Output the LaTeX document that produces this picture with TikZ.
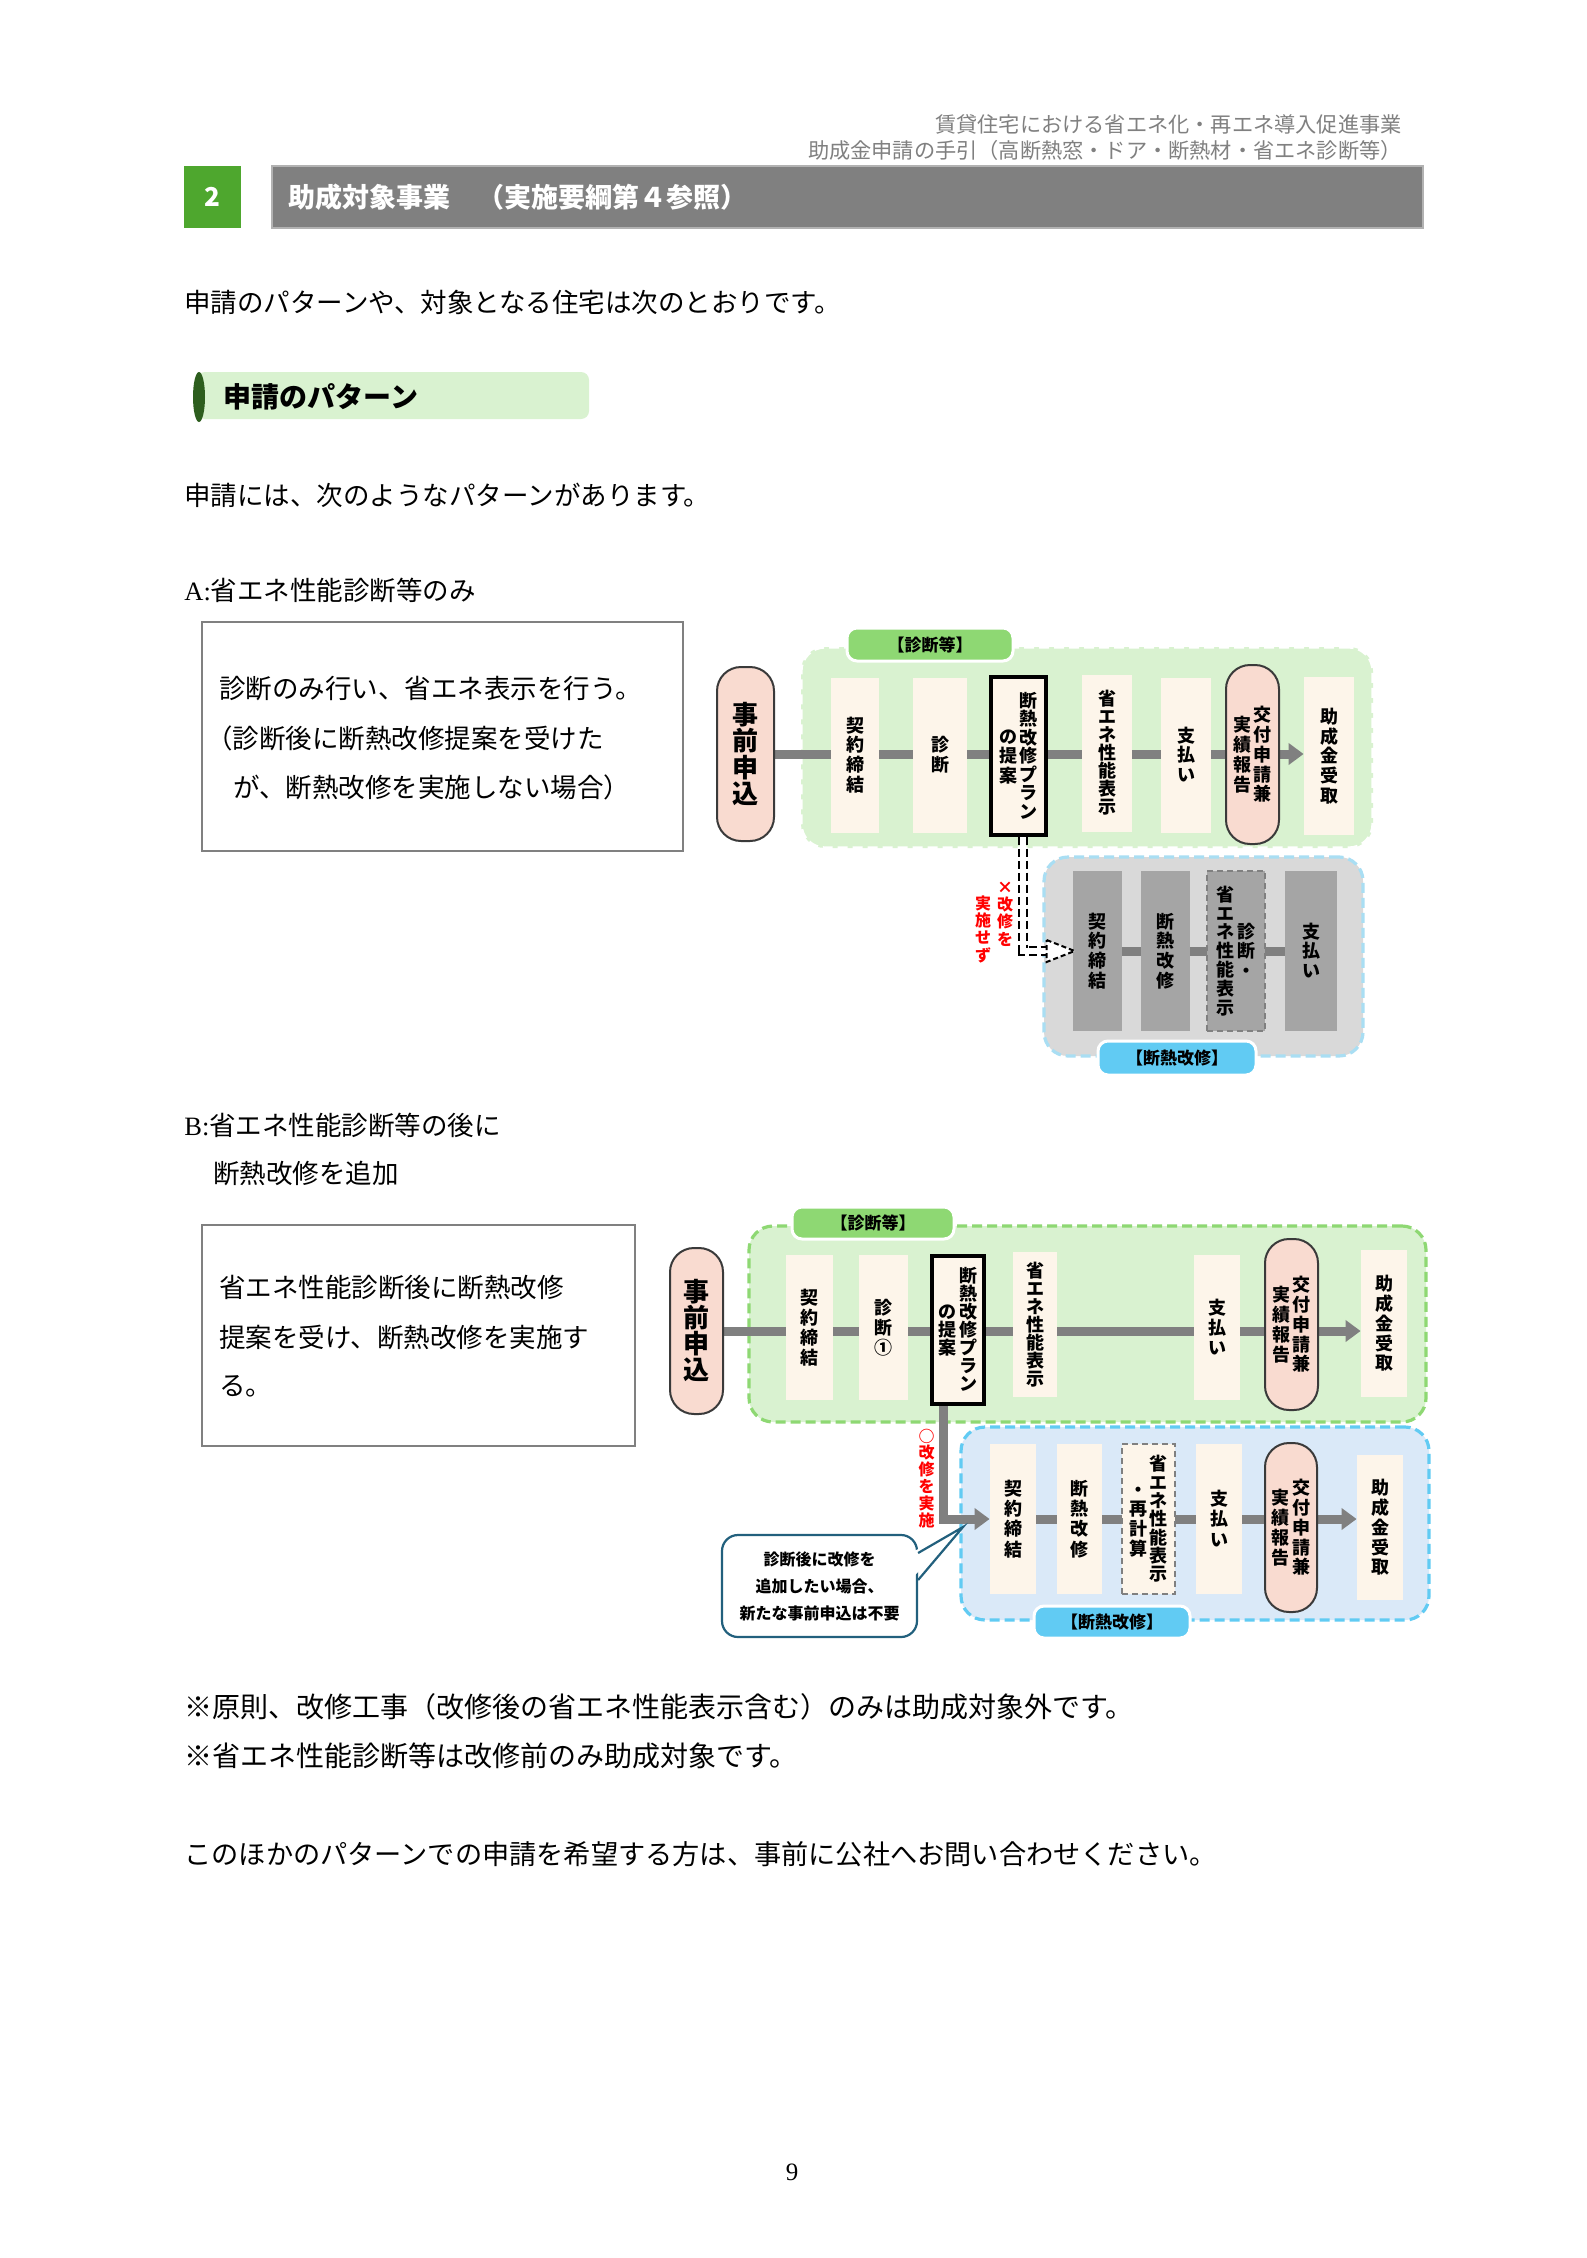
\documentclass[tikz,border=0pt]{standalone}
\usepackage{fontspec}
\setmainfont{Noto Sans CJK JP}
\newfontfamily\lserif{Liberation Serif}
\usetikzlibrary{arrows.meta}
\definecolor{cream}{HTML}{FDF5EA}
\definecolor{peach}{HTML}{F9DBD0}
\definecolor{capline}{HTML}{3A3A3A}
\definecolor{lgreen}{HTML}{D9F2D0}
\definecolor{tgreen}{HTML}{8ED873}
\definecolor{dgreen}{HTML}{2D5E1E}
\definecolor{hgreen}{HTML}{4EA72E}
\definecolor{lblue}{HTML}{DAE9F8}
\definecolor{tblue}{HTML}{61CBF3}
\definecolor{pblue}{HTML}{A9DEF3}
\definecolor{rgray}{HTML}{D9D9D9}
\definecolor{sgray}{HTML}{A5A5A5}
\definecolor{cgray}{HTML}{808080}
\definecolor{txgray}{HTML}{808080}
\definecolor{callline}{HTML}{22607D}
\definecolor{boxline}{HTML}{808080}
\pgfdeclarelayer{bg}
\pgfdeclarelayer{mid}
\pgfsetlayers{bg,mid,main}
\ExplSyntaxOn
\NewDocumentCommand\vcol{O{1.1}m}
 {
  \ensuremath
   {
    \vcenter
     {
      \offinterlineskip
      \tl_map_inline:nn {#2}
       {
        \hbox_to_wd:nn {1.08em}
         {
          \hss ##1 \hss
          \vrule~width~0pt~height~\fp_eval:n {0.88+(#1-1)/2}em~depth~\fp_eval:n {0.12+(#1-1)/2}em
         }
       }
     }
   }
 }
\ExplSyntaxOff
\begin{document}
\begin{tikzpicture}[x=0.5pt,y=-0.5pt,
  sz/.style 2 args={minimum width=#1*0.5pt, minimum height=#2*0.5pt},
  body/.style={anchor=west, inner sep=0pt, font=\fontsize{13.25pt}{16pt}\selectfont},
  note/.style={anchor=west, inner sep=0pt, font=\fontsize{14pt}{16pt}\selectfont},
  hdr/.style={anchor=east, inner sep=0pt, text=txgray, font=\fontsize{10.6pt}{12pt}\selectfont},
  stepbox/.style={fill=cream, inner sep=0pt, text=black, font=\bfseries\fontsize{9pt}{11pt}\selectfont},
  capsule/.style={stepbox, fill=peach, draw=capline, line width=1pt, rounded corners=12pt},
  planbox/.style={stepbox, fill=cream, draw=black, line width=1.6pt},
  greystep/.style={stepbox, fill=sgray},
  dashstep/.style={draw=cgray, line width=0.8pt, dash pattern=on 3pt off 2pt},
  big/.style={font=\bfseries\fontsize{13pt}{15pt}\selectfont},
  region/.style={rounded corners=12pt, line width=1.6pt, dash pattern=on 5pt off 2.5pt, inner sep=0pt},
  tag/.style={draw=white, line width=1.5pt, rounded corners=5pt, inner sep=0pt, font=\bfseries\fontsize{8.5pt}{10pt}\selectfont},
  conn/.style={draw=cgray, line width=4.5pt},
  arr/.style={conn, -{Triangle[width=10.5pt,length=7.5pt]}},
  redtxt/.style={text=red, inner sep=0pt, font=\bfseries\fontsize{8pt}{9pt}\selectfont},
]
\useasboundingbox (0,0) rectangle (1586,2258);
\begin{pgfonlayer}{bg}
  \fill[white] (0,0) rectangle (1586,2258);
\end{pgfonlayer}

% ---------- header ----------
\node[hdr] (h1) at (1402,124) {賃貸住宅における省エネ化・再エネ導入促進事業};
\node[hdr] (h2) at (1402,150) {助成金申請の手引（高断熱窓・ドア・断熱材・省エネ診断等）};
\node[fill=hgreen, sz={57}{62}, inner sep=0pt, text=white, font=\bfseries\fontsize{13pt}{15pt}\selectfont] (num) at (212.5,197) {2};
\node[fill=cgray, draw=gray!60, line width=0.6pt, sz={1151}{62}, inner sep=0pt] (bar) at (847.5,197) {};
\node[anchor=west, inner sep=0pt, text=white, font=\bfseries\fontsize{13.5pt}{15pt}\selectfont] (ttl) at (288,197) {助成対象事業　（実施要綱第４参照）};

\node[body] (p1) at (184,302) {申請のパターンや、対象となる住宅は次のとおりです。};

\node[fill=lgreen, rounded corners=4pt, sz={392}{47}, inner sep=0pt] (sec) at (393,395.5) {};
\fill[dgreen] (199,397) ellipse [x radius=3pt, y radius=12.5pt];
\node[anchor=west, inner sep=0pt, font=\bfseries\fontsize{14pt}{16pt}\selectfont] (sect) at (223,397) {申請のパターン};

\node[body] (p2) at (184,495) {申請には、次のようなパターンがあります。};

% ---------- A ----------
\node[body] (Ah) at (184,590) {{\lserif A:}省エネ性能診断等のみ};
\node[draw=boxline, line width=1pt, sz={481}{229}, inner sep=0pt] (Abox) at (442.5,736.5) {};
\node[body] (Al1) at (219,689) {診断のみ行い、省エネ表示を行う。};
\node[body] (Al2) at (206,738) {（診断後に断熱改修提案を受けた};
\node[body] (Al3) at (233,787) {が、断熱改修を実施しない場合）};

\begin{pgfonlayer}{bg}
  \node[region, fill=lgreen, draw=white, sz={572}{201}] (Ag) at (1087,747.5) {};
  \node[region, fill=rgray, draw=pblue, sz={319}{199}] (Ar) at (1203.5,956.5) {};
\end{pgfonlayer}
\node[tag, fill=tgreen, sz={166}{33}] (Agt) at (930,644.5) {【診断等】};
\node[tag, fill=tblue, sz={158}{34}] (Art) at (1177,1058) {【断熱改修】};

\node[capsule, big, sz={57}{174}] (Aj) at (745.5,754) {\vcol[1.02]{事前申込}};
\node[stepbox, sz={48}{155}] (As1) at (855,755) {\vcol{契約締結}};
\node[stepbox, sz={54}{155}] (As2) at (940,755) {\vcol{診断}};
\node[planbox, sz={55}{158}] (As3) at (1018.5,756) {\vcol{の提案}\kern0.5pt\vcol[1.03]{断熱改修プラン}};
\node[stepbox, sz={50}{157}] (As4) at (1107,753) {\vcol[1.0]{省エネ性能表示}};
\node[stepbox, sz={50}{155}] (As5) at (1186,755) {\vcol{支払い}};
\node[capsule, sz={53}{179}] (As6) at (1252.5,754.5) {\vcol{実績報告}\kern0.5pt\vcol{交付申請兼}};
\node[stepbox, sz={50}{158}] (As7) at (1329,756) {\vcol{助成金受取}};
\begin{pgfonlayer}{mid}
  \draw[arr] (Aj.east) -- (Aj.east -| As7.west);
\end{pgfonlayer}

\node[greystep, sz={49}{160}] (Ab1) at (1097.5,951) {\vcol{契約締結}};
\node[greystep, sz={49}{160}] (Ab2) at (1165.5,951) {\vcol{断熱改修}};
\node[greystep, dashstep, sz={58}{160}] (Ab3) at (1236,951) {\vcol[1.05]{省エネ性能表示}\kern1pt\vcol{診断・}};
\node[greystep, sz={52}{160}] (Ab4) at (1311,951) {\vcol{支払い}};
\begin{pgfonlayer}{mid}
  \draw[conn] (Ab1.east) -- (Ab1.east -| Ab4.west);
  \draw[line width=5pt, dash pattern=on 4pt off 2pt] ([xshift=2.25pt]As3.south) |- ([xshift=-13pt]Ab1.west);
  \draw[white, line width=3pt] ([xshift=2.25pt]As3.south) |- ([xshift=-13pt]Ab1.west);
\end{pgfonlayer}
\draw[line width=1pt, dash pattern=on 2.5pt off 1.5pt, fill=white] ([xshift=-13pt,yshift=5.5pt]Ab1.west) -- ([xshift=1pt]Ab1.west) -- ([xshift=-13pt,yshift=-5.5pt]Ab1.west) -- cycle;
\node[redtxt] (Ar1) at (1005,913) {\vcol[1.08]{×改修を}};
\node[redtxt] (Ar2) at (983,929) {\vcol[1.08]{実施せず}};

% ---------- B ----------
\node[body] (Bh1) at (184,1125) {{\lserif B:}省エネ性能診断等の後に};
\node[body] (Bh2) at (213,1173) {断熱改修を追加};
\node[draw=boxline, line width=1pt, sz={433}{221}, inner sep=0pt] (Bbox) at (418.5,1335.5) {};
\node[body] (Bl1) at (219,1288) {省エネ性能診断後に断熱改修};
\node[body] (Bl2) at (219,1337) {提案を受け、断熱改修を実施す};
\node[body] (Bl3) at (219,1386) {る。};

\begin{pgfonlayer}{bg}
  \node[region, fill=lgreen, draw=tgreen, sz={677}{196}] (Bg) at (1087.5,1324) {};
  \node[region, fill=lblue, draw=tblue, sz={468}{193}] (Bb) at (1195,1523.5) {};
\end{pgfonlayer}
\node[tag, fill=tgreen, sz={162}{32}] (Bgt) at (873,1223) {【診断等】};
\node[tag, fill=tblue, sz={156}{32}] (Bbt) at (1112,1622) {【断熱改修】};

\node[capsule, big, sz={53}{166}] (Bj) at (696.5,1331) {\vcol[1.0]{事前申込}};
\node[stepbox, sz={47}{145}] (Bc1) at (809.5,1327.5) {\vcol[1.12]{契約締結}};
\node[stepbox, sz={49}{145}] (Bc2) at (883.5,1327.5) {\vcol[1.12]{診断①}};
\node[planbox, sz={52}{148}] (Bc3) at (958,1330) {\vcol[1.0]{の提案}\kern0.5pt\vcol[1.0]{断熱改修プラン}};
\node[stepbox, sz={44}{145}] (Bc4) at (1035,1324.5) {\vcol[1.0]{省エネ性能表示}};
\node[stepbox, sz={46}{145}] (Bc5) at (1217,1327.5) {\vcol[1.12]{支払い}};
\node[capsule, sz={53}{171}] (Bc6) at (1291.5,1324.5) {\vcol{実績報告}\kern0.5pt\vcol{交付申請兼}};
\node[stepbox, sz={46}{147}] (Bc7) at (1384,1323.5) {\vcol{助成金受取}};

\node[stepbox, sz={46}{150}] (Bd1) at (1013,1519) {\vcol[1.12]{契約締結}};
\node[stepbox, sz={45}{150}] (Bd2) at (1079.5,1519) {\vcol[1.12]{断熱改修}};
\node[stepbox, dashstep, sz={53}{150}] (Bd3) at (1148.5,1519) {\vcol{・再計算}\kern0.5pt\vcol[1.02]{省エネ性能表示}};
\node[stepbox, sz={46}{150}] (Bd4) at (1219,1519) {\vcol[1.12]{支払い}};
\node[capsule, sz={52}{169}] (Bd5) at (1291,1527.5) {\vcol{実績報告}\kern0.5pt\vcol{交付申請兼}};
\node[stepbox, sz={46}{145}] (Bd6) at (1380,1527.5) {\vcol{助成金受取}};
\begin{pgfonlayer}{mid}
  \draw[arr] (Bj.east) -- (Bj.east -| Bc7.west);
  \draw[arr] (Bd1.east) -- (Bd1.east -| Bd6.west);
  \draw[arr] ([xshift=-7.5pt]Bc3.south) |- (Bd1.west);
\end{pgfonlayer}
\node[redtxt] (Br) at (926.5,1478) {\vcol[1.05]{○改修を実施}};

\node[draw=callline, line width=1.1pt, fill=white, rounded corners=8pt, sz={195}{102}, inner sep=0pt,
      align=center, font=\bfseries\fontsize{8pt}{13.5pt}\selectfont] (Bcall) at (819.5,1586) {診断後に改修を\\追加したい場合、\\新たな事前申込は不要};
\coordinate (Btip) at (963,1527);
\fill[white] ([xshift=-4pt,yshift=16.5pt]Bcall.east) -- (Btip) -- ([xshift=-4pt,yshift=3pt]Bcall.east) -- cycle;
\draw[callline, line width=1.1pt] ([yshift=16.5pt]Bcall.east) -- (Btip) -- ([yshift=3pt]Bcall.east);

% ---------- notes ----------
\node[note] (n1) at (184,1707) {※原則、改修工事（改修後の省エネ性能表示含む）のみは助成対象外です。};
\node[note] (n2) at (184,1756) {※省エネ性能診断等は改修前のみ助成対象です。};
\node[note, font=\fontsize{13.6pt}{16pt}\selectfont] (n3) at (184,1854) {このほかのパターンでの申請を希望する方は、事前に公社へお問い合わせください。};
\node[inner sep=0pt, font=\lserif\fontsize{12.5pt}{14pt}\selectfont] (pg) at (792,2172) {9};
\end{tikzpicture}
\end{document}
